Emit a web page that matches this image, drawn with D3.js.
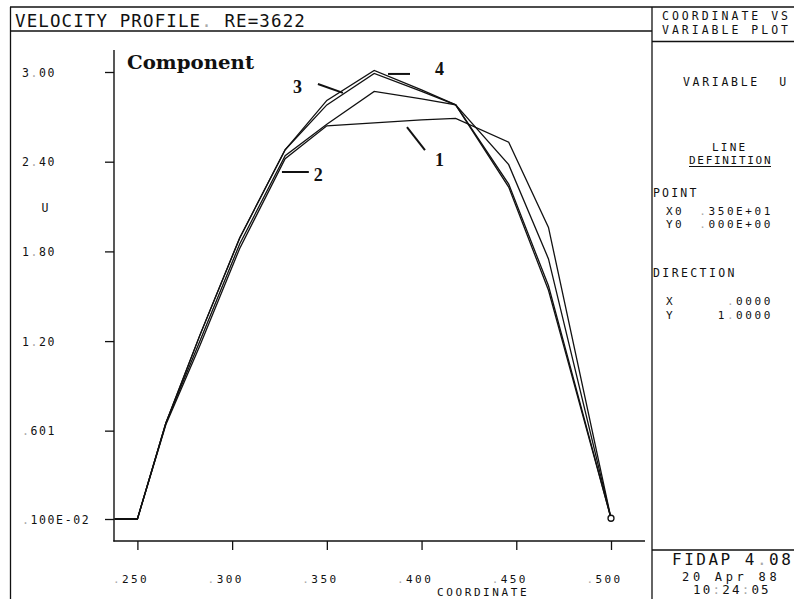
<!DOCTYPE html>
<html>
<head>
<meta charset="utf-8">
<script src="https://cdn.jsdelivr.net/npm/d3@7"></script>
<style>
body{margin:0;background:#fff}
svg text{font-family:"DejaVu Sans Mono",monospace;fill:#111}
</style>
</head>
<body>
<svg id="chart" width="794" height="599"></svg>
<script>
/* data: coordinate (x1000) and U for the 4 stations */
const coords = [238, 250, 265, 283, 304, 328, 350, 375, 400, 418, 446, 467, 500]
const u1 = [0.01, 0.01, 0.64, 1.17, 1.82, 2.42, 2.64, 2.66, 2.68, 2.69, 2.53, 1.96, 0.015]
const u2 = [0.01, 0.01, 0.65, 1.20, 1.85, 2.44, 2.65, 2.87, 2.82, 2.78, 2.38, 1.75, 0.015]
const u3 = [0.01, 0.01, 0.65, 1.24, 1.89, 2.48, 2.78, 2.99, 2.87, 2.78, 2.25, 1.57, 0.015]
const u4 = [0.01, 0.01, 0.65, 1.24, 1.89, 2.48, 2.81, 3.01, 2.88, 2.78, 2.23, 1.54, 0.015]
const curveNames = ['1', '2', '3', '4']

const xTicks = [250, 300, 350, 400, 450, 500]
const xTickLabels = ['.250', '.300', '.350', '.400', '.450', '.500']
const yTicks = [0.01, 0.601, 1.20, 1.80, 2.40, 3.00]
const yTickLabels = ['.100E-02', '.601', '1.20', '1.80', '2.40', '3.00']

/* where the curve numbers sit, in data units: [text pos, leader start, leader end] */
const tagLayout = [
    [[409.5, 2.37], [392.3, 2.632], [401.8, 2.478]],
    [[345.5, 2.27], [326.3, 2.331], [340.5, 2.331]],
    [[334.5, 2.86], [345.3, 2.92], [358.5, 2.86]],
    [[409.5, 2.98], [382.3, 2.987], [393.9, 2.987]]
]

const svg = d3.select('#chart')

const x = d3.scaleLinear().domain([250, 500]).range([137.4, 611])
const y = d3.scaleLinear().domain([0.01, 3.00]).range([519, 72])

/* text helper: dots and colons are faint in the plotter output */
const txt = (g, px, py, str, size, ls, anchor) => {
    const t = g.append('text')
        .attr('x', px).attr('y', py)
        .attr('font-size', size)
        .attr('letter-spacing', ls || 0)
        .attr('text-anchor', anchor || 'start')
        .attr('xml:space', 'preserve')
    str.split(/([.:])/).forEach(s => {
        if (!s) return
        t.append('tspan').text(s).attr('fill', (s == '.' || s == ':') ? '#aaa' : '#111')
    })
    return t
}

/* frame */
const frame = svg.append('g').attr('stroke', '#111').attr('stroke-width', 1.3)
frame.append('line').attr('x1', 10).attr('y1', 7).attr('x2', 794).attr('y2', 7)
frame.append('line').attr('x1', 10.5).attr('y1', 7).attr('x2', 10.5).attr('y2', 599)
frame.append('line').attr('x1', 10).attr('y1', 31).attr('x2', 652).attr('y2', 31)
frame.append('line').attr('x1', 652).attr('y1', 7).attr('x2', 652).attr('y2', 599)
frame.append('line').attr('x1', 652).attr('y1', 41.5).attr('x2', 794).attr('y2', 41.5)
frame.append('line').attr('x1', 652).attr('y1', 550).attr('x2', 794).attr('y2', 550)

txt(svg, 15, 27, 'VELOCITY PROFILE. RE=3622', 17.5, 1.1)

/* right panel */
const panel = svg.append('g')
txt(panel, 662, 20, 'COORDINATE VS', 11.5, 3.0)
txt(panel, 662, 33.5, 'VARIABLE PLOT', 11.5, 3.0)
txt(panel, 683, 86, 'VARIABLE  U', 11.5, 2.7)
txt(panel, 712, 151, 'LINE', 11, 2.2)
txt(panel, 689, 164, 'DEFINITION', 11, 1.7)
panel.append('line').attr('x1', 689).attr('x2', 771).attr('y1', 166.5).attr('y2', 166.5)
    .attr('stroke', '#111').attr('stroke-width', 1.2)
txt(panel, 653, 197, 'POINT', 11.5, 2.2)
txt(panel, 666, 214.5, 'X0', 11, 2.4)
txt(panel, 773, 214.5, '.350E+01', 11, 2.6, 'end')
txt(panel, 666, 228, 'Y0', 11, 2.4)
txt(panel, 773, 228, '.000E+00', 11, 2.6, 'end')
txt(panel, 653, 277, 'DIRECTION', 11.5, 2.4)
txt(panel, 666, 305, 'X', 11, 2.4)
txt(panel, 773, 305, '.0000', 11, 2.6, 'end')
txt(panel, 666, 318.5, 'Y', 11, 2.4)
txt(panel, 773, 318.5, '1.0000', 11, 2.6, 'end')
txt(panel, 672, 565, 'FIDAP 4.08', 16, 2.5)
txt(panel, 682, 580.5, '20 Apr 88', 12, 3.7)
txt(panel, 693, 594, '10:24:05', 12.5, 2.2)

/* axes */
const ax = svg.append('g').attr('stroke', '#111').attr('stroke-width', 1.4)
ax.append('line').attr('x1', 114).attr('x2', 114).attr('y1', 50).attr('y2', 541.5)
ax.append('line').attr('x1', 113.3).attr('x2', 645).attr('y1', 541).attr('y2', 541)

const yAxis = svg.append('g').attr('transform', 'translate(114,0)')
    .call(d3.axisLeft(y).tickValues(yTicks).tickSize(9).tickFormat(''))
yAxis.select('.domain').remove()
yAxis.selectAll('.tick line').attr('stroke', '#111').attr('stroke-width', 1.3)
yAxis.selectAll('.tick').each(function (d, i) {
    txt(d3.select(this), -92, 4, yTickLabels[i], 11.5, 1.6)
})

const xAxis = svg.append('g').attr('transform', 'translate(0,541)')
    .call(d3.axisBottom(x).tickValues(xTicks).tickSize(9).tickFormat(''))
xAxis.select('.domain').remove()
xAxis.selectAll('.tick line').attr('stroke', '#111').attr('stroke-width', 1.3)
xAxis.selectAll('.tick').each(function (d, i) {
    txt(d3.select(this), -25, 42, xTickLabels[i], 11, 2.4)
})

txt(svg, 45, 212, 'U', 11.5, 0, 'middle')
txt(svg, 437, 596, 'COORDINATE', 11, 2.6)

/* curves */
const series = [u1, u2, u3, u4].map(u => u.map((v, i) => [coords[i], v]))
const line = d3.line().x(d => x(d[0])).y(d => y(d[1]))
svg.append('g').selectAll('path')
    .data(series)
    .join('path')
    .attr('d', line)
    .attr('fill', 'none')
    .attr('stroke', '#111')
    .attr('stroke-width', 1.3)
    .attr('stroke-linejoin', 'miter')

svg.append('circle')
    .attr('cx', x(coords[coords.length - 1]))
    .attr('cy', y(u4[u4.length - 1]))
    .attr('r', 3)
    .attr('fill', '#fff').attr('stroke', '#111').attr('stroke-width', 1.3)

/* curve numbers with leaders */
const tags = svg.append('g')
tagLayout.forEach((l, i) => {
    tags.append('line')
        .attr('x1', x(l[1][0])).attr('y1', y(l[1][1]))
        .attr('x2', x(l[2][0])).attr('y2', y(l[2][1]))
        .attr('stroke', '#111').attr('stroke-width', 2)
    tags.append('text')
        .attr('x', x(l[0][0])).attr('y', y(l[0][1]))
        .attr('text-anchor', 'middle')
        .attr('font-size', 18)
        .attr('font-weight', 'bold')
        .style('font-family', '"Liberation Serif", serif')
        .text(curveNames[i])
})

svg.append('text')
    .attr('x', 127).attr('y', 69)
    .attr('font-size', 18)
    .attr('font-weight', 'bold')
    .attr('textLength', 127)
    .attr('lengthAdjust', 'spacingAndGlyphs')
    .style('font-family', '"DejaVu Serif", serif')
    .text('Component')
</script>
</body>
</html>
